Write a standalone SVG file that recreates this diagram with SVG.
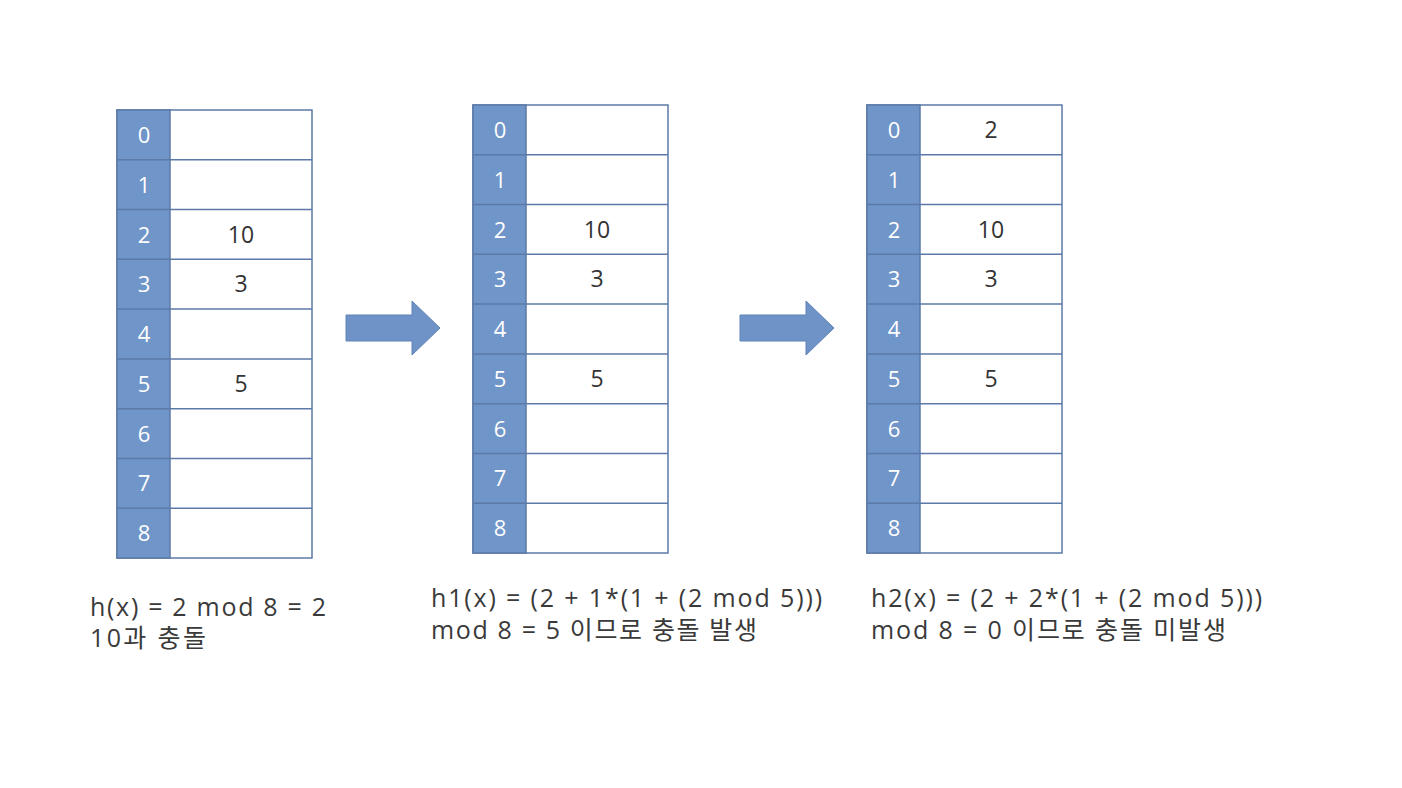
<svg xmlns="http://www.w3.org/2000/svg" width="1402" height="788" viewBox="0 0 1402 788">
<style>
.idx{fill:#7095c8;stroke:#5b7aa8;stroke-width:1.5}
.cell{fill:#ffffff;stroke:#5b7aa8;stroke-width:1.5}
.it{font-family:"Open Sans","Noto Sans CJK KR",sans-serif;font-size:22px;fill:#ffffff;text-anchor:middle}
.vt{font-family:"Open Sans","Noto Sans CJK KR",sans-serif;font-size:23px;fill:#333333;text-anchor:middle}
.cap{font-family:"Open Sans","Noto Sans CJK KR",sans-serif;font-size:25px;fill:#3a3a3a}
.arr{fill:#6f93c7;stroke:#5f84b8;stroke-width:1}
</style>
<rect width="1402" height="788" fill="#ffffff"/>
<defs>
<g id="tbl">
<rect class="cell" x="0" y="0" width="195" height="448"/>
<rect class="idx" x="0" y="0" width="53" height="448"/>
<g stroke="#5b7aa8" stroke-width="1.5">
<line x1="0" y1="49.8" x2="195" y2="49.8"/>
<line x1="0" y1="99.6" x2="195" y2="99.6"/>
<line x1="0" y1="149.3" x2="195" y2="149.3"/>
<line x1="0" y1="199.1" x2="195" y2="199.1"/>
<line x1="0" y1="248.9" x2="195" y2="248.9"/>
<line x1="0" y1="298.7" x2="195" y2="298.7"/>
<line x1="0" y1="348.4" x2="195" y2="348.4"/>
<line x1="0" y1="398.2" x2="195" y2="398.2"/>
</g>
<text class="it" x="27" y="33">0</text>
<text class="it" x="27" y="83">1</text>
<text class="it" x="27" y="133">2</text>
<text class="it" x="27" y="182">3</text>
<text class="it" x="27" y="232">4</text>
<text class="it" x="27" y="282">5</text>
<text class="it" x="27" y="332">6</text>
<text class="it" x="27" y="381">7</text>
<text class="it" x="27" y="431">8</text>
</g>
</defs>
<g id="table1" transform="translate(117,110)">
<use href="#tbl"/>
<text class="vt" x="124" y="133">10</text>
<text class="vt" x="124" y="182">3</text>
<text class="vt" x="124" y="282">5</text>
</g>
<g id="table2" transform="translate(473,105)">
<use href="#tbl"/>
<text class="vt" x="124" y="133">10</text>
<text class="vt" x="124" y="182">3</text>
<text class="vt" x="124" y="282">5</text>
</g>
<g id="table3" transform="translate(867,105)">
<use href="#tbl"/>
<text class="vt" x="124" y="33">2</text>
<text class="vt" x="124" y="133">10</text>
<text class="vt" x="124" y="182">3</text>
<text class="vt" x="124" y="282">5</text>
</g>
<g id="connectors">
<polygon class="arr" points="346,315 412,315 412,301 440,328 412,355 412,341 346,341"/>
<polygon class="arr" points="740,315 806,315 806,301 834,328 806,355 806,341 740,341"/>
</g>
<g id="caption1">
<text class="cap" x="90" y="616" textLength="236">h(x) = 2 mod 8 = 2</text>
<text class="cap" x="90" y="647" textLength="116">10과 충돌</text>
</g>
<g id="caption2">
<text class="cap" x="431" y="607" textLength="391">h1(x) = (2 + 1*(1 + (2 mod 5)))</text>
<text class="cap" x="431" y="639" textLength="326">mod 8 = 5 이므로 충돌 발생</text>
</g>
<g id="caption3">
<text class="cap" x="871" y="607" textLength="391">h2(x) = (2 + 2*(1 + (2 mod 5)))</text>
<text class="cap" x="871" y="639" textLength="355">mod 8 = 0 이므로 충돌 미발생</text>
</g>
</svg>
